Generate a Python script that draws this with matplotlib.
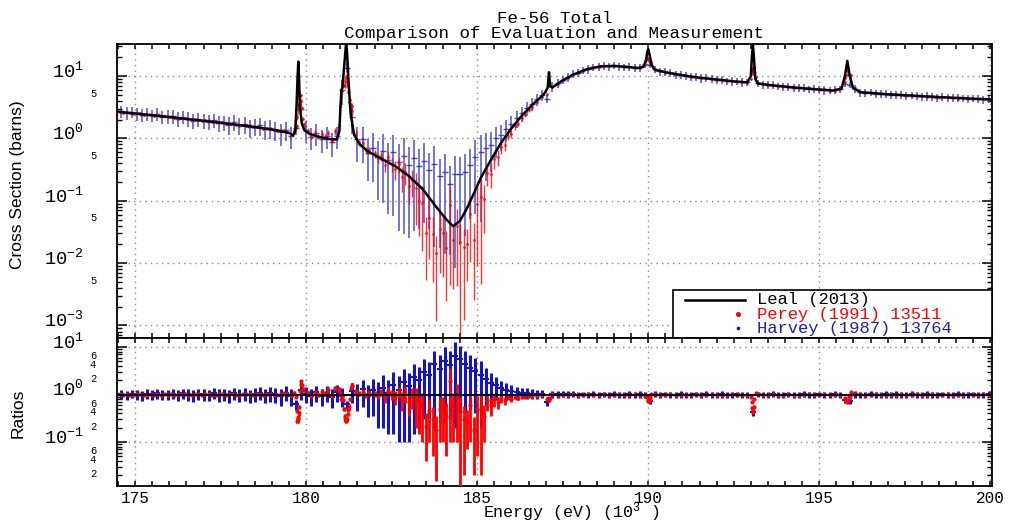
import numpy as np
import matplotlib
matplotlib.use("Agg")
import matplotlib.pyplot as plt
from matplotlib.ticker import FixedLocator, FuncFormatter, MultipleLocator
from matplotlib.transforms import ScaledTranslation
from matplotlib.patches import Rectangle

# ---------------- data ----------------
# Evaluation (Leal 2013): energy (keV) and total cross section (barns)
leal_e = [174.47, 175.5, 176.5, 177.5, 178.5, 179.2, 179.5, 179.62, 179.68, 179.72,
          179.75, 179.77, 179.79, 179.82, 179.88, 179.95, 180.1, 180.4, 180.7, 180.9,
          180.97, 181.0, 181.03, 181.06, 181.1, 181.14, 181.17, 181.2, 181.24, 181.3,
          181.4, 181.55, 181.8, 182.2, 182.6, 183.0, 183.4, 183.8, 184.1, 184.3,
          184.5, 184.7, 184.9, 185.1, 185.4, 185.7, 186.0, 186.3, 186.6, 186.9,
          187.0, 187.06, 187.1, 187.13, 187.2, 187.5, 187.8, 188.2, 188.6, 189.0,
          189.4, 189.7, 189.85, 189.93, 189.97, 190.0, 190.04, 190.1, 190.2, 190.5,
          191.0, 191.5, 192.0, 192.5, 192.9, 193.0, 193.03, 193.06, 193.09, 193.13,
          193.2, 193.6, 194.2, 194.8, 195.4, 195.65, 195.75, 195.82, 195.88, 195.98,
          196.2, 197.0, 198.0, 199.0, 200.05]
leal_xs = [2.68, 2.35, 2.05, 1.78, 1.52, 1.33, 1.22, 1.12, 1.3, 3.5,
           10.0, 17.0, 10.0, 3.0, 1.7, 1.35, 1.18, 1.05, 0.97, 0.96,
           1.3, 3.0, 6.0, 6.5, 12.0, 22.0, 35.0, 22.0, 8.0, 2.5,
           1.15, 0.82, 0.62, 0.47, 0.36, 0.25, 0.155, 0.08, 0.05, 0.039,
           0.048, 0.075, 0.13, 0.23, 0.45, 0.85, 1.45, 2.3, 3.4, 4.8,
           5.6, 6.5, 11.5, 6.8, 6.6, 8.5, 10.5, 12.8, 14.3, 14.5,
           14.0, 13.4, 14.0, 17.0, 24.0, 27.0, 22.0, 15.0, 12.5, 11.5,
           10.3, 9.4, 8.8, 8.2, 7.9, 10.0, 20.0, 32.0, 20.0, 9.0,
           7.6, 7.1, 6.6, 6.2, 5.85, 6.3, 10.0, 17.5, 11.0, 6.5,
           5.5, 5.1, 4.75, 4.45, 4.2]

# Harvey (1987) 13764: measurement / evaluation ratio and its error (0.15 keV grid from 174.60 keV)
harvey_start, harvey_step = 174.60, 0.15
harvey_ratio = [1.03, 0.98, 1.05, 1.01, 0.97, 1.04, 1.00, 1.06, 0.99, 1.02,
                1.04, 0.98, 1.06, 1.01, 0.96, 1.05, 1.02, 0.99, 1.07, 1.00,
                1.03, 0.97, 1.08, 1.00, 1.05, 0.96, 1.04, 1.09, 0.98, 1.06,
                1.02, 0.95, 1.10, 0.93, 0.62, 1.25, 1.05, 0.92, 1.12, 0.95,
                1.10, 0.90, 1.15, 0.95, 0.62, 1.20, 1.05, 1.30, 0.95, 1.25,
                1.00, 1.40, 1.10, 1.60, 1.25, 1.80, 1.50, 2.30, 2.00, 3.00,
                2.60, 4.30, 3.50, 5.20, 4.20, 6.50, 5.50, 4.30, 3.60, 3.20,
                2.60, 2.10, 1.75, 1.55, 1.35, 1.25, 1.18, 1.12, 1.10, 1.07,
                1.05, 1.04, 1.03, 0.68, 1.03, 1.02, 1.03, 1.01, 1.02, 1.00,
                1.01, 0.99, 1.02, 1.00, 1.01, 0.99, 1.02, 1.00, 0.98, 1.01,
                1.00, 1.01, 0.98, 0.72, 1.02, 0.99, 1.01, 1.00, 0.98, 1.01,
                1.00, 0.98, 1.01, 0.99, 1.02, 1.00, 0.99, 1.01, 0.98, 1.00,
                1.01, 0.99, 1.00, 0.42, 1.01, 0.99, 1.00, 1.02, 0.99, 1.00,
                1.01, 0.99, 1.00, 1.02, 0.98, 1.00, 1.01, 0.99, 1.00, 1.02,
                0.99, 0.75, 0.72, 1.01, 0.99, 1.00, 1.02, 0.99, 1.00, 1.01,
                0.99, 1.01, 1.00, 0.98, 1.02, 1.00, 0.99, 1.01, 1.00, 0.98,
                1.01, 1.00, 0.99, 1.02, 1.00, 0.98, 1.01, 1.00, 0.99, 1.02]
harvey_err = [0.22, 0.23, 0.22, 0.24, 0.23, 0.24, 0.23, 0.25, 0.24, 0.25,
              0.25, 0.26, 0.25, 0.27, 0.26, 0.27, 0.28, 0.27, 0.28, 0.29,
              0.29, 0.30, 0.31, 0.30, 0.32, 0.31, 0.33, 0.34, 0.33, 0.35,
              0.35, 0.37, 0.38, 0.36, 0.15, 0.50, 0.40, 0.36, 0.42, 0.38,
              0.42, 0.38, 0.45, 0.40, 0.12, 0.55, 0.60, 0.75, 0.62, 0.90,
              0.80, 1.20, 0.95, 1.45, 1.15, 1.70, 1.40, 2.15, 1.80, 2.70,
              2.30, 4.10, 3.25, 4.95, 3.90, 6.30, 5.10, 3.90, 3.10, 2.80,
              2.40, 1.50, 1.10, 0.80, 0.60, 0.48, 0.40, 0.35, 0.30, 0.27,
              0.24, 0.22, 0.20, 0.10, 0.18, 0.17, 0.16, 0.16, 0.15, 0.15,
              0.14, 0.15, 0.14, 0.15, 0.14, 0.15, 0.14, 0.15, 0.14, 0.15,
              0.14, 0.15, 0.14, 0.08, 0.14, 0.15, 0.14, 0.15, 0.14, 0.15,
              0.14, 0.15, 0.14, 0.15, 0.14, 0.15, 0.14, 0.15, 0.14, 0.15,
              0.14, 0.15, 0.14, 0.06, 0.14, 0.15, 0.14, 0.15, 0.14, 0.15,
              0.14, 0.15, 0.14, 0.15, 0.14, 0.15, 0.14, 0.15, 0.14, 0.15,
              0.14, 0.08, 0.08, 0.15, 0.14, 0.15, 0.14, 0.15, 0.14, 0.15,
              0.14, 0.15, 0.14, 0.15, 0.14, 0.15, 0.14, 0.15, 0.14, 0.15,
              0.14, 0.15, 0.14, 0.15, 0.14, 0.15, 0.14, 0.15, 0.14, 0.15]

# Perey (1991) 13511: ratio to evaluation and error, three regular segments + resonance points
perey1_start, perey1_step = 174.55, 0.10
perey1_ratio = [1.01, 0.99, 1.02, 1.00, 0.98, 1.01, 1.03, 0.99, 1.00, 1.02,
                0.98, 1.01, 1.00, 1.03, 0.99, 1.02, 1.00, 0.97, 1.01, 1.02,
                1.00, 0.99, 1.03, 1.01, 0.98, 1.02, 1.04, 1.00, 0.99, 1.01,
                1.02, 0.98, 1.01, 1.03, 1.00, 0.97, 1.02, 1.01, 1.04, 0.99,
                1.01, 1.03, 0.98, 1.02, 1.05, 1.00, 0.97, 1.03, 1.06, 1.02,
                0.96, 1.10, 0.30, 1.70, 1.25, 1.08, 0.95, 1.10, 1.00, 1.15,
                1.05, 1.25, 0.95, 1.35, 1.30, 0.90, 0.32, 0.55, 1.50, 1.15,
                1.05, 1.12, 0.98, 1.08]
perey1_err = [0.04, 0.05, 0.04, 0.05, 0.04, 0.05, 0.04, 0.05, 0.04, 0.05,
              0.04, 0.05, 0.04, 0.05, 0.04, 0.05, 0.04, 0.05, 0.04, 0.05,
              0.04, 0.05, 0.04, 0.05, 0.04, 0.05, 0.04, 0.05, 0.04, 0.05,
              0.04, 0.05, 0.04, 0.05, 0.04, 0.05, 0.04, 0.05, 0.04, 0.05,
              0.04, 0.05, 0.04, 0.05, 0.04, 0.05, 0.04, 0.05, 0.04, 0.05,
              0.06, 0.10, 0.05, 0.20, 0.12, 0.10, 0.10, 0.12, 0.10, 0.14,
              0.12, 0.16, 0.12, 0.18, 0.15, 0.10, 0.05, 0.08, 0.18, 0.14,
              0.12, 0.14, 0.12, 0.14]

perey2_start, perey2_step = 182.0, 0.10
perey2_ratio = [1.05, 0.95, 1.10, 0.85, 1.20, 1.00, 0.90, 1.15, 0.80, 1.05,
                0.70, 0.95, 0.80, 0.55, 0.60, 0.22, 0.45, 0.30, 0.18, 0.50,
                0.50, 0.35, 1.90, 0.60, 0.90, 0.45, 0.30, 0.27, 0.60, 0.18,
                0.50, 0.50, 0.35, 0.75, 0.60, 0.80, 0.70, 0.85, 0.75, 0.88,
                0.80, 0.90, 0.85, 0.92, 0.90, 0.94]
perey2_err = [0.15, 0.15, 0.18, 0.20, 0.25, 0.25, 0.30, 0.30, 0.35, 0.40,
              0.35, 0.45, 0.60, 0.40, 0.50, 0.18, 0.35, 0.25, 0.165, 0.40,
              0.40, 0.30, 1.80, 0.50, 0.80, 0.44, 0.28, 0.20, 0.50, 0.16,
              0.45, 0.48, 0.25, 0.30, 0.25, 0.25, 0.20, 0.18, 0.15, 0.12,
              0.10, 0.10, 0.08, 0.08, 0.07, 0.06]

perey3_start, perey3_step = 186.6, 0.15
perey3_ratio = [0.93, 0.95, 0.97, 0.80, 1.01, 0.98, 1.00, 0.99, 1.01, 1.00,
                0.99, 1.01, 1.00, 0.98, 1.01, 1.00, 0.99, 1.01, 0.98, 1.00,
                1.01, 0.99, 0.95, 0.82, 1.02, 1.00, 0.98, 1.01, 0.99, 1.00,
                1.00, 0.99, 1.01, 0.98, 1.00, 1.01, 0.99, 1.00, 0.98, 1.01,
                1.00, 0.99, 0.97, 0.45, 1.03, 0.99, 1.00, 1.01, 0.98, 1.00,
                1.01, 0.99, 1.00, 0.98, 1.01, 1.00, 0.99, 1.02, 0.99, 0.97,
                0.98, 0.80, 0.90, 1.05, 1.01, 0.99, 1.00, 1.01, 0.98, 1.00,
                1.00, 0.99, 1.01, 1.00, 0.98, 1.01, 1.00, 0.99, 1.01, 1.00,
                0.99, 1.01, 1.00, 0.98, 1.00, 1.01, 0.99, 1.00, 1.02, 0.99]
perey3_err = [0.08, 0.07, 0.06, 0.05, 0.05, 0.05, 0.04, 0.04, 0.04, 0.04] + \
             [0.04, 0.05] * 40

perey_res_e = [179.70, 179.72, 179.74, 179.755, 179.765, 179.78, 179.80, 179.82, 179.84, 179.87,
               179.90, 181.00, 181.03, 181.08, 181.11, 181.13, 181.17, 181.19, 181.21, 181.23,
               181.27, 181.30, 181.33, 187.08, 187.10, 187.12, 189.95, 189.98, 190.00, 190.02,
               190.06, 190.09, 193.00, 193.02, 193.04, 193.06, 193.08, 193.10, 193.14, 195.76,
               195.79, 195.82, 195.85, 195.88, 195.92]
perey_res_ratio = [0.90, 0.45, 0.28, 0.30, 0.33, 0.40, 0.55, 1.20, 1.90, 1.60,
                   1.30, 1.10, 0.80, 0.75, 0.50, 0.36, 0.28, 0.30, 0.38, 0.48,
                   0.80, 1.40, 1.60, 0.85, 0.75, 0.85, 0.90, 0.75, 0.72, 0.72,
                   0.88, 1.05, 0.90, 0.70, 0.52, 0.42, 0.55, 0.80, 1.08, 0.85,
                   0.72, 0.70, 0.75, 0.95, 1.12]
perey_res_err = [0.06, 0.04, 0.03, 0.03, 0.03, 0.04, 0.05, 0.08, 0.12, 0.10,
                 0.08, 0.08, 0.06, 0.05, 0.04, 0.03, 0.03, 0.03, 0.03, 0.04,
                 0.06, 0.10, 0.12, 0.05, 0.05, 0.05, 0.04, 0.04, 0.04, 0.04,
                 0.04, 0.04, 0.04, 0.04, 0.04, 0.03, 0.04, 0.04, 0.04, 0.04,
                 0.04, 0.04, 0.04, 0.04, 0.04]

legend_labels = ["Leal (2013)", "Perey (1991) 13511", "Harvey (1987) 13764"]
title_lines = ["Fe-56 Total", "Comparison of Evaluation and Measurement"]

# ---------------- assemble ----------------
leal_e_a = np.array(leal_e)
leal_xs_a = np.array(leal_xs)


def grid(start, step, vals):
    return start + step * np.arange(len(vals))


h_e = grid(harvey_start, harvey_step, harvey_ratio)
h_r = np.array(harvey_ratio)
h_s = np.array(harvey_err)

p_e = np.concatenate([grid(perey1_start, perey1_step, perey1_ratio),
                      grid(perey2_start, perey2_step, perey2_ratio),
                      grid(perey3_start, perey3_step, perey3_ratio),
                      np.array(perey_res_e)])
p_r = np.concatenate([perey1_ratio, perey2_ratio, perey3_ratio, perey_res_ratio])
p_s = np.concatenate([perey1_err, perey2_err, perey3_err, perey_res_err])

h_eval = np.interp(h_e, leal_e_a, leal_xs_a)
p_eval = np.interp(p_e, leal_e_a, leal_xs_a)

RED = "#ff0000"
BLUE = "#1414c4"
BLUE_TXT = "#2222a8"

plt.rcParams["font.family"] = ["Liberation Mono", "DejaVu Sans Mono"]
plt.rcParams["mathtext.fontset"] = "custom"
plt.rcParams["mathtext.rm"] = "Liberation Mono"
plt.rcParams["mathtext.it"] = "Liberation Mono"
plt.rcParams["axes.linewidth"] = 1.3

W, H = 1012, 523
fig = plt.figure(figsize=(W / 100, H / 100), dpi=100)
L, R = 117, 992
ax1 = fig.add_axes([L / W, 1 - 338 / H, (R - L) / W, (338 - 44) / H])
ax2 = fig.add_axes([L / W, 1 - 486 / H, (R - L) / W, (486 - 338) / H])

# top panel
ax1.errorbar(h_e, h_r * h_eval, yerr=h_s * h_eval, fmt="_", ms=4, mew=1.0,
             color=BLUE, ecolor=BLUE, elinewidth=1.1, capsize=0, alpha=0.75, zorder=2)
ax1.errorbar(p_e, p_r * p_eval, yerr=p_s * p_eval, fmt="o", ms=2.0, mew=0,
             color=RED, ecolor=RED, elinewidth=1.0, capsize=0, alpha=0.8, zorder=3)
ax1.plot(leal_e_a, leal_xs_a, color="black", lw=1.8, zorder=4)

# ratio panel
ax2.errorbar(h_e, h_r, yerr=h_s, fmt="_", ms=4, mew=1.5, color=BLUE, ecolor=BLUE,
             elinewidth=2.2, capsize=0, zorder=2)
ax2.errorbar(p_e, p_r, yerr=p_s, fmt="o", ms=3.0, mew=0, color=RED, ecolor=RED,
             elinewidth=2.0, capsize=0, zorder=3)
ax2.plot(leal_e_a, leal_xs_a / leal_xs_a, color="black", lw=1.5, zorder=4)

# axes setup
for ax in (ax1, ax2):
    ax.set_xlim(174.47, 200.05)
    ax.set_yscale("log")
    ax.xaxis.set_major_locator(MultipleLocator(5))
    ax.xaxis.set_minor_locator(MultipleLocator(0.5))
    ax.tick_params(axis="x", which="both", direction="in", top=True, bottom=True,
                   length=3.8, width=1.1, labelsize=11.5, pad=3.5)
    ax.tick_params(axis="y", which="major", direction="in", left=True, right=True,
                   length=7, width=1.1, labelsize=13.5, pad=24)
    ax.tick_params(axis="y", which="minor", direction="in", left=True, right=True,
                   length=3.5, width=1.0, labelsize=7.5, pad=15)
    ax.grid(True, which="major", axis="both", color="#8a8a8a",
            linestyle=(0, (1, 3)), lw=1.0)
    ax.set_axisbelow(True)

ax1.tick_params(axis="x", labelbottom=False)

ax1.set_ylim(6.3e-4, 32.6)
ax2.set_ylim(0.01185, 15.5)


def major_fmt(v, pos):
    return r"$\mathregular{10^{%d}}$" % int(round(np.log10(v)))


def minor_fmt_factory(keep):
    def f(v, pos):
        m = v / 10 ** np.floor(np.log10(v) + 1e-9)
        d = int(round(m))
        return str(d) if d in keep else ""
    return f


ax1.yaxis.set_major_locator(FixedLocator([1e-3, 1e-2, 1e-1, 1, 10]))
ax1.yaxis.set_minor_locator(FixedLocator([s * 10.0 ** p for p in range(-4, 2) for s in range(2, 10)]))
ax1.yaxis.set_major_formatter(FuncFormatter(major_fmt))
ax1.yaxis.set_minor_formatter(FuncFormatter(minor_fmt_factory({5})))

ax2.yaxis.set_major_locator(FixedLocator([0.1, 1, 10]))
ax2.yaxis.set_minor_locator(FixedLocator([s * 10.0 ** p for p in range(-2, 1) for s in range(2, 10)]))
ax2.yaxis.set_major_formatter(FuncFormatter(major_fmt))
ax2.yaxis.set_minor_formatter(FuncFormatter(minor_fmt_factory({2, 4, 6})))


def shift_labels(ax, which, dy_pt):
    ticks = ax.yaxis.get_major_ticks() if which == "major" else ax.yaxis.get_minor_ticks()
    off = ScaledTranslation(0, dy_pt / 72, fig.dpi_scale_trans)
    for t in ticks:
        t.label1.set_transform(t.label1.get_transform() + off)


for ax in (ax1, ax2):
    shift_labels(ax, "major", 5.0)
    shift_labels(ax, "minor", 1.5)

# legend box (manual, matches the original layout)
bx0 = (673 - L) / (R - L)
bh = (338 - 290) / (338 - 44)
ax1.add_patch(Rectangle((bx0, 0), 1 - bx0, bh, transform=ax1.transAxes,
                        facecolor="white", edgecolor="black", lw=1.2, zorder=10, clip_on=False))


def ax_x(px):
    return (px - L) / (R - L)


def ax_y(py):
    return (338 - py) / (338 - 44)


ax1.plot([ax_x(685), ax_x(745)], [ax_y(300), ax_y(300)], transform=ax1.transAxes,
         color="black", lw=1.8, zorder=11, clip_on=False)
ax1.plot([ax_x(738)], [ax_y(314)], "o", ms=2.6, color=RED, transform=ax1.transAxes,
         zorder=11, clip_on=False)
ax1.plot([ax_x(738)], [ax_y(328)], "o", ms=1.6, color=BLUE, transform=ax1.transAxes,
         zorder=11, clip_on=False)
for txt, py, col in zip(legend_labels, [299.5, 314, 328.5], ["black", RED, BLUE_TXT]):
    ax1.text(ax_x(757), ax_y(py), txt, transform=ax1.transAxes, ha="left",
             va="center", fontsize=12.3, color=col, zorder=12)

# titles and labels
fig.text((L + R) / 2 / W, 1 - 18.5 / H, title_lines[0], ha="center", va="center", fontsize=12.6)
fig.text((L + R) / 2 / W, 1 - 33.5 / H, title_lines[1], ha="center", va="center", fontsize=12.6)
fig.text(571 / W, 1 - 517.5 / H, r"Energy (eV) (10$\mathregular{^{3}}$ )", ha="center",
         va="baseline", fontsize=12)
fig.text(18 / W, 1 - 185 / H, "Cross Section (barns)", rotation=90, ha="center",
         va="center", fontsize=12.5, family="Liberation Sans")
fig.text(18 / W, 1 - 413 / H, "Ratios", rotation=90, ha="center", va="center",
         fontsize=12.5, family="Liberation Sans")

fig.savefig("out.png", dpi=100)
